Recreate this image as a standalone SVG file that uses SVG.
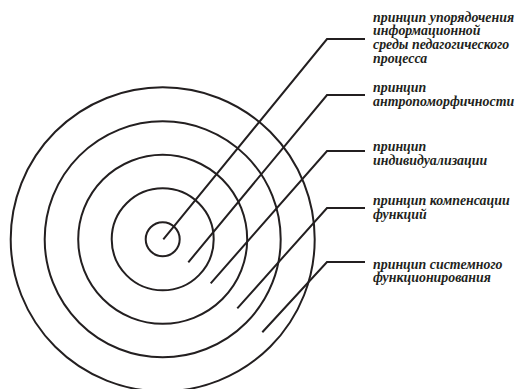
<svg xmlns="http://www.w3.org/2000/svg" width="515" height="389" viewBox="0 0 515 389">
<style>
.ring{fill:none;stroke:#231f20;stroke-width:2}
.lead{fill:none;stroke:#231f20;stroke-width:2;stroke-linejoin:miter}
text{font-family:'Liberation Serif','DejaVu Serif',serif;font-style:italic;font-weight:700;font-size:13.9px;fill:#231f20}
</style>
<rect width="515" height="389" fill="#fff"/>
<g id="rings">
<circle id="ring1" class="ring" cx="162.7" cy="239.3" r="17"/>
<circle id="ring2" class="ring" cx="162.7" cy="239.3" r="51"/>
<circle id="ring3" class="ring" cx="162.7" cy="239.3" r="84.5"/>
<circle id="ring4" class="ring" cx="162.7" cy="239.3" r="118"/>
<circle id="ring5" class="ring" cx="162.7" cy="239.3" r="152"/>
</g>
<g id="connectors">
<path class="lead" d="M163.3,239.3 L327,39 H365"/>
<path class="lead" d="M188.3,262.3 L327,95 H365"/>
<path class="lead" d="M210.7,283.3 L327,151 H365"/>
<path class="lead" d="M237.3,308.3 L327,208 H365"/>
<path class="lead" d="M262.3,332.3 L327,262 H365"/>
</g>
<g id="label1">
<text x="373" y="21.5">принцип упорядочения</text>
<text x="373" y="35.3">информационной</text>
<text x="373" y="49.1">среды педагогического</text>
<text x="373" y="62.9">процесса</text>
</g>
<g id="label2">
<text x="373" y="92">принцип</text>
<text x="373" y="105.8">антропоморфичности</text>
</g>
<g id="label3">
<text x="373" y="151">принцип</text>
<text x="373" y="164.8">индивидуализации</text>
</g>
<g id="label4">
<text x="373" y="205.2">принцип компенсации</text>
<text x="373" y="219">функций</text>
</g>
<g id="label5">
<text x="373" y="268.5">принцип системного</text>
<text x="373" y="282.3">функционирования</text>
</g>
</svg>
